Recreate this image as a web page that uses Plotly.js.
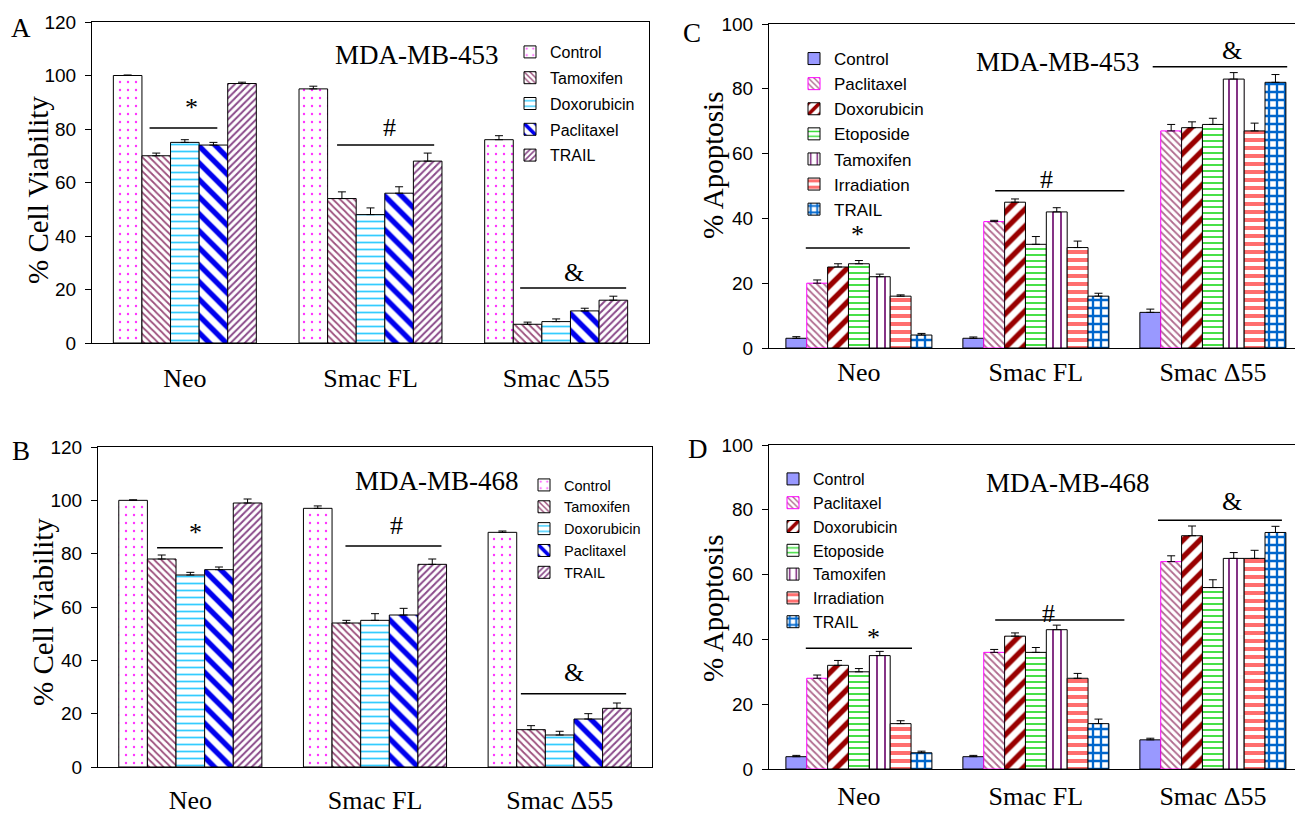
<!DOCTYPE html>
<html><head><meta charset="utf-8">
<script src="https://cdn.plot.ly/plotly-3.0.1.min.js"></script>
<style>html,body{margin:0;padding:0;background:#fff}</style>
</head><body><div id="chart" style="width:1295px;height:814px"></div>
<script>
// ---------- DATA ----------
const categories = ['Neo', 'Smac FL', 'Smac Δ55'];
const seriesAB = ['Control', 'Tamoxifen', 'Doxorubicin', 'Paclitaxel', 'TRAIL'];
const seriesCD = ['Control', 'Paclitaxel', 'Doxorubicin', 'Etoposide', 'Tamoxifen', 'Irradiation', 'TRAIL'];

// Panel A: MDA-MB-453, % Cell Viability
const A_Control     = [100, 95, 76];
const A_Tamoxifen   = [70, 54, 7];
const A_Doxorubicin = [75, 48, 8];
const A_Paclitaxel  = [74, 56, 12];
const A_TRAIL       = [97, 68, 16];
const A_err_Control     = [0.2, 1, 1.5];
const A_err_Tamoxifen   = [1, 2.5, 0.8];
const A_err_Doxorubicin = [1, 2.5, 1];
const A_err_Paclitaxel  = [1, 2.4, 1];
const A_err_TRAIL       = [0.5, 3, 1.5];

// Panel B: MDA-MB-468, % Cell Viability
const B_Control     = [100, 97, 88];
const B_Tamoxifen   = [78, 54, 14];
const B_Doxorubicin = [72, 55, 12];
const B_Paclitaxel  = [74, 57, 18];
const B_TRAIL       = [99, 76, 22];
const B_err_Control     = [0.2, 0.9, 0.5];
const B_err_Tamoxifen   = [1.5, 1, 1.5];
const B_err_Doxorubicin = [1, 2.5, 1.4];
const B_err_Paclitaxel  = [1, 2.5, 2];
const B_err_TRAIL       = [1.5, 2, 2];

// Panel C: MDA-MB-453, % Apoptosis
const C_Control     = [3, 3, 11];
const C_Paclitaxel  = [20, 39, 67];
const C_Doxorubicin = [25, 45, 68];
const C_Etoposide   = [26, 32, 69];
const C_Tamoxifen   = [22, 42, 83];
const C_Irradiation = [16, 31, 67];
const C_TRAIL       = [4, 16, 82];
const C_err_Control     = [0.5, 0.4, 1];
const C_err_Paclitaxel  = [1, 0.4, 2];
const C_err_Doxorubicin = [1, 1, 1.8];
const C_err_Etoposide   = [1, 2.4, 1.9];
const C_err_Tamoxifen   = [0.8, 1.3, 2];
const C_err_Irradiation = [0.4, 2, 2.4];
const C_err_TRAIL       = [0.5, 0.9, 2.4];

// Panel D: MDA-MB-468, % Apoptosis
const D_Control     = [3.8, 3.8, 9];
const D_Paclitaxel  = [28, 36, 64];
const D_Doxorubicin = [32, 41, 72];
const D_Etoposide   = [30, 36, 56];
const D_Tamoxifen   = [35, 43, 65];
const D_Irradiation = [14, 28, 65];
const D_TRAIL       = [5, 14, 73];
const D_err_Control     = [0.4, 0.4, 0.5];
const D_err_Paclitaxel  = [1, 0.9, 1.8];
const D_err_Doxorubicin = [1.5, 1, 3];
const D_err_Etoposide   = [1, 1.5, 2.4];
const D_err_Tamoxifen   = [1.3, 1.4, 1.8];
const D_err_Irradiation = [0.9, 1.5, 2.5];
const D_err_TRAIL       = [0.5, 1.4, 1.9];

// ---------- STYLES ----------
const SERIF = 'Liberation Serif, Times New Roman, serif';
const SANS = 'Liberation Sans, Arial, sans-serif';
const styleAB = {
  Control:     {shape: '.',  fg: '#ff33ff', size: 8,  sol: 0.07, line: '#000'},
  Tamoxifen:   {shape: '\\', fg: '#9c4f7c', size: 5,  sol: 0.35, line: '#000'},
  Doxorubicin: {shape: '-',  fg: '#33ccff', size: 7,  sol: 0.25, line: '#000'},
  Paclitaxel:  {shape: '\\', fg: '#0000ee', size: 12, sol: 0.45, line: '#000'},
  TRAIL:       {shape: '/',  fg: '#8a4a8a', size: 5,  sol: 0.4,  line: '#000'}
};
const styleCD = {
  Control:     {solid: '#9999ff', line: '#000'},
  Paclitaxel:  {shape: '\\', fg: '#b06a8e', size: 5,  sol: 0.35, line: '#ff00ff'},
  Doxorubicin: {shape: '/',  fg: '#990000', size: 12, sol: 0.45, line: '#000'},
  Etoposide:   {shape: '-',  fg: '#33dd33', size: 6,  sol: 0.3,  line: '#000'},
  Tamoxifen:   {shape: '|',  fg: '#660066', size: 8,  sol: 0.2,  line: '#000'},
  Irradiation: {shape: '-',  fg: '#ff6f6f', size: 8,  sol: 0.5,  line: '#000'},
  TRAIL:       {shape: '+',  fg: '#0066cc', size: 8,  sol: 0.5,  line: '#000'}
};

const panelData = {
  A: {names: seriesAB, vals: [A_Control, A_Tamoxifen, A_Doxorubicin, A_Paclitaxel, A_TRAIL],
      errs: [A_err_Control, A_err_Tamoxifen, A_err_Doxorubicin, A_err_Paclitaxel, A_err_TRAIL]},
  B: {names: seriesAB, vals: [B_Control, B_Tamoxifen, B_Doxorubicin, B_Paclitaxel, B_TRAIL],
      errs: [B_err_Control, B_err_Tamoxifen, B_err_Doxorubicin, B_err_Paclitaxel, B_err_TRAIL]},
  C: {names: seriesCD, vals: [C_Control, C_Paclitaxel, C_Doxorubicin, C_Etoposide, C_Tamoxifen, C_Irradiation, C_TRAIL],
      errs: [C_err_Control, C_err_Paclitaxel, C_err_Doxorubicin, C_err_Etoposide, C_err_Tamoxifen, C_err_Irradiation, C_err_TRAIL]},
  D: {names: seriesCD, vals: [D_Control, D_Paclitaxel, D_Doxorubicin, D_Etoposide, D_Tamoxifen, D_Irradiation, D_TRAIL],
      errs: [D_err_Control, D_err_Paclitaxel, D_err_Doxorubicin, D_err_Etoposide, D_err_Tamoxifen, D_err_Irradiation, D_err_TRAIL]}
};
const panelAxes = {A: ['x', 'y', 'legend'], B: ['x2', 'y2', 'legend2'], C: ['x3', 'y3', 'legend3'], D: ['x4', 'y4', 'legend4']};
const groupWidth = {A: 0.77, B: 0.775, C: 0.825, D: 0.825};

const traces = [];
Object.keys(panelData).forEach(p => {
  const pd = panelData[p];
  const n = pd.names.length;
  const w = groupWidth[p] / n;
  const styles = (p === 'A' || p === 'B') ? styleAB : styleCD;
  pd.names.forEach((name, i) => {
    const st = styles[name];
    const marker = {line: {color: st.line, width: 1}};
    if (st.solid) {
      marker.color = st.solid;
    } else {
      marker.color = '#ffffff';
      marker.pattern = {shape: st.shape, fgcolor: st.fg, bgcolor: '#ffffff', size: st.size, solidity: st.sol, fillmode: 'replace'};
    }
    traces.push({
      type: 'bar', name: name, x: categories, y: pd.vals[i],
      xaxis: panelAxes[p][0], yaxis: panelAxes[p][1], legend: panelAxes[p][2],
      legendgroup: p + name,
      width: w, offset: -groupWidth[p] / 2 + i * w,
      marker: marker,
      error_y: {type: 'data', symmetric: false, array: pd.errs[i], arrayminus: pd.errs[i].map(() => 0),
                color: '#000', thickness: 1, width: 4},
      hoverinfo: 'x+y+name'
    });
  });
});

// ---------- LAYOUT ----------
const W = 1295, H = 814;
const px = v => v / W;
const py = v => 1 - v / H;

function xax(d0, d1, rng, standoff) {
  return {domain: [d0, d1], range: rng, type: 'category', showline: true, mirror: true, linecolor: '#000', linewidth: 1,
          ticks: '', showgrid: false, zeroline: false, fixedrange: true,
          tickfont: {family: SERIF, size: 26, color: '#000'}, ticklabelstandoff: standoff};
}
function yax(d0, d1, max, mirror) {
  return {domain: [d0, d1], range: [0, max], dtick: 20, tick0: 0, showline: true, mirror: mirror, linecolor: '#000', linewidth: 1,
          ticks: 'outside', ticklen: 6, tickcolor: '#000', showgrid: false, zeroline: false, fixedrange: true,
          tickfont: {family: SANS, size: 19, color: '#000'}, ticklabelstandoff: 5};
}

const layout = {
  width: W, height: H, margin: {l: 0, r: 0, t: 0, b: 0}, paper_bgcolor: '#fff', plot_bgcolor: '#fff',
  barmode: 'group', font: {family: SANS, color: '#000'},
  xaxis:  Object.assign(xax(px(92), px(649), [-0.5, 2.5], 12), {anchor: 'y'}),
  yaxis:  Object.assign(yax(py(343), py(22), 120, true), {anchor: 'x'}),
  xaxis2: Object.assign(xax(px(98), px(652), [-0.5, 2.5], 10), {anchor: 'y2'}),
  yaxis2: Object.assign(yax(py(767), py(447), 120, true), {anchor: 'x2'}),
  xaxis3: Object.assign(xax(px(769), 1, [-0.508, 2.464], 1), {anchor: 'y3'}),
  yaxis3: Object.assign(yax(py(348), py(24), 100, false), {anchor: 'x3'}),
  xaxis4: Object.assign(xax(px(769), 1, [-0.508, 2.464], 4), {anchor: 'y4'}),
  yaxis4: Object.assign(yax(py(769), py(445), 100, false), {anchor: 'x4'}),
  legend:  {x: px(510), y: py(35),  xanchor: 'left', yanchor: 'top', bgcolor: 'rgba(0,0,0,0)', traceorder: 'grouped', tracegroupgap: 2, font: {family: SANS, size: 16, color: '#000'}, itemwidth: 30},
  legend2: {x: px(524), y: py(469), xanchor: 'left', yanchor: 'top', bgcolor: 'rgba(0,0,0,0)', traceorder: 'grouped', tracegroupgap: 0, font: {family: SANS, size: 14.5, color: '#000'}, itemwidth: 30},
  legend3: {x: px(794), y: py(41),  xanchor: 'left', yanchor: 'top', bgcolor: 'rgba(0,0,0,0)', traceorder: 'grouped', tracegroupgap: 0, font: {family: SANS, size: 17, color: '#000'}, itemwidth: 30},
  legend4: {x: px(773), y: py(462), xanchor: 'left', yanchor: 'top', bgcolor: 'rgba(0,0,0,0)', traceorder: 'grouped', tracegroupgap: 0, font: {family: SANS, size: 16, color: '#000'}, itemwidth: 30},
  annotations: [],
  shapes: []
};

function txt(text, x, y, size, extra) {
  layout.annotations.push(Object.assign({text: text, x: px(x), y: py(y), xref: 'paper', yref: 'paper', showarrow: false,
    xanchor: 'center', yanchor: 'middle', font: {family: SERIF, size: size, color: '#000'}}, extra || {}));
}
// panel letters, titles, axis titles
txt('A', 21, 28, 27); txt('B', 21, 451, 27); txt('C', 692, 33, 27); txt('D', 698, 449, 27);
txt('MDA-MB-453', 417, 55, 27); txt('MDA-MB-468', 437, 481, 27);
txt('MDA-MB-453', 1058, 62, 27); txt('MDA-MB-468', 1068, 483, 27);
txt('% Cell Viability', 38, 190, 29, {textangle: -90});
txt('% Cell Viability', 43, 612, 29, {textangle: -90});
txt('% Apoptosis', 713, 166, 29, {textangle: -90});
txt('% Apoptosis', 713, 609, 29, {textangle: -90});

// significance markers: [axis suffix, symbol, symX, symY, lineX0, lineX1, lineY]
const marks = [
  ['', '*', 0.035, 87.9, -0.19, 0.175, 80.4],
  ['', '#', 1.10, 80.7, 0.82, 1.343, 74],
  ['', '&', 2.097, 26.5, 1.806, 2.377, 20.6],
  ['2', '*', 0.03, 87.9, -0.18, 0.176, 82.2],
  ['2', '#', 1.115, 90.4, 0.84, 1.36, 82.9],
  ['2', '&', 2.076, 35.6, 1.79, 2.36, 27.5],
  ['3', '*', -0.01, 35, -0.30, 0.288, 30.9],
  ['3', '#', 1.06, 52, 0.77, 1.50, 48.5],
  ['3', '&', 2.11, 91.8, 1.66, 2.42, 86.8],
  ['4', '*', 0.08, 40.6, -0.30, 0.30, 37.3],
  ['4', '#', 1.07, 48, 0.77, 1.50, 46],
  ['4', '&', 2.11, 82.6, 1.69, 2.39, 76.8]
];
marks.forEach(m => {
  layout.annotations.push({text: m[1], x: m[2], y: m[3], xref: 'x' + m[0], yref: 'y' + m[0], showarrow: false,
    xanchor: 'center', yanchor: 'middle', font: {family: SERIF, size: 26, color: '#000'}});
  layout.shapes.push({type: 'line', xref: 'x' + m[0], yref: 'y' + m[0], x0: m[4], x1: m[5], y0: m[6], y1: m[6],
    line: {color: '#000', width: 1.5}});
});

Plotly.newPlot('chart', traces, layout, {displayModeBar: false, staticPlot: true});
</script>
</body></html>
